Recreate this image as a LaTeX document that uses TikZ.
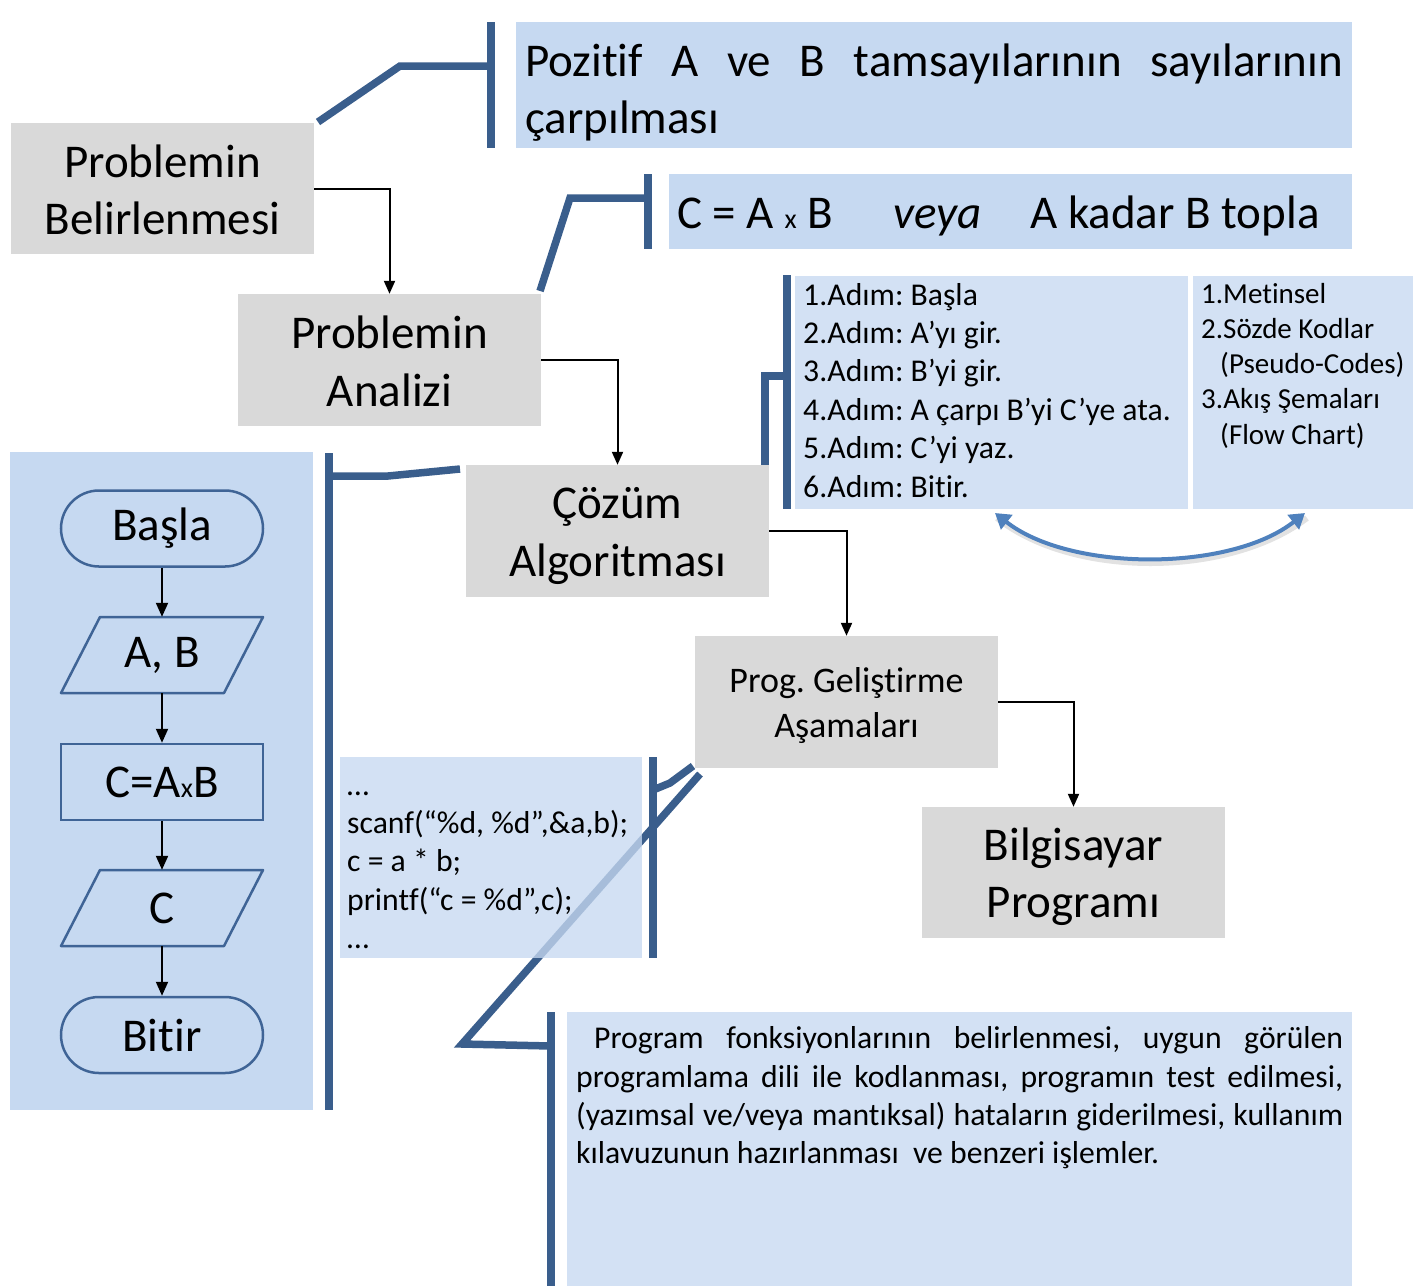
\documentclass[tikz,border=0pt]{standalone}
\usepackage{fontspec}
\setmainfont[Ligatures={NoCommon,NoDiscretionary,NoContextual}]{Carlito}
\usetikzlibrary{arrows.meta,calc}
\definecolor{grayfill}{HTML}{D9D9D9}
\definecolor{bluefill}{HTML}{C6D9F1}
\definecolor{brk}{HTML}{3A5E8C}
\definecolor{flowline}{HTML}{3F6496}
\definecolor{curvc}{HTML}{4F81BD}
\newcommand{\fbig}{\fontsize{47}{57.5}\selectfont}
\newcommand{\fmid}{\fontsize{36}{45}\selectfont}
\newcommand{\fsmall}{\fontsize{31.7}{38.4}\selectfont}
\newcommand{\ftiny}{\fontsize{29}{35}\selectfont}
\frenchspacing
\begin{document}
\begin{tikzpicture}[x=1pt,y=-1pt,
  gbox/.style={fill=grayfill, inner sep=0pt, minimum width=303pt},
  gtxt/.style={inner sep=0pt, align=center, font=\fbig},
  bbox/.style={fill=bluefill, inner sep=0pt},
  lbox/.style={fill=bluefill, fill opacity=.78, inner sep=0pt},
  bracket/.style={draw=brk, line width=7.5pt},
  arr/.style={draw=black, line width=2pt, -{Triangle[length=13pt,width=11pt]}},
  farr/.style={draw=black, line width=2pt, -{Triangle[length=14pt,width=12pt]}},
  txt/.style={inner sep=0pt, anchor=base west},
  fshape/.style={draw=flowline, line width=2.5pt, line join=round},
  ftxt/.style={inner sep=0pt, minimum width=202pt, minimum height=76pt, font=\fbig}]
\useasboundingbox (0,0) rectangle (1413,1286);

% ---------- thick bracket connectors ----------
\coordinate (k1a) at (318,122); \coordinate (k1b) at (400,66); \coordinate (k1c) at (491,66);
\draw[bracket] (k1a) -- (k1b) -- (k1c);
\coordinate (v1t) at (491,22); \coordinate (v1b) at (491,148);
\draw[bracket] (v1t) -- (v1b);

\coordinate (k2a) at (540,291); \coordinate (k2b) at (570,198); \coordinate (k2c) at (648,198);
\draw[bracket] (k2a) -- (k2b) -- (k2c);
\coordinate (v2t) at (648,174); \coordinate (v2b) at (648,249);
\draw[bracket] (v2t) -- (v2b);

\coordinate (k3a) at (765,466); \coordinate (k3b) at (765,376); \coordinate (k3c) at (787,376);
\draw[bracket] (k3a) -- (k3b) -- (k3c);
\coordinate (v3t) at (787,275); \coordinate (v3b) at (787,509);
\draw[bracket] (v3t) -- (v3b);

\coordinate (k4a) at (460,469); \coordinate (k4b) at (388,476); \coordinate (k4c) at (329,476);
\draw[bracket] (k4a) -- (k4b) -- (k4c);
\coordinate (v4t) at (329,453); \coordinate (v4b) at (329,1110);
\draw[bracket] (v4t) -- (v4b);

\coordinate (k5a) at (693,766); \coordinate (k5b) at (670,783); \coordinate (k5c) at (653,790);
\draw[bracket] (k5a) -- (k5b) -- (k5c);
\coordinate (v5t) at (653,757); \coordinate (v5b) at (653,958);
\draw[bracket] (v5t) -- (v5b);

\coordinate (k6a) at (700,774); \coordinate (k6b) at (462,1044); \coordinate (k6c) at (551,1046);
\draw[bracket] (k6a) -- (k6b) -- (k6c);
\coordinate (v6t) at (551,1012); \coordinate (v6b) at (551,1286);
\draw[bracket] (v6t) -- (v6b);

% ---------- gray process boxes ----------
\node[gbox, minimum height=131pt] (b1) at (162.5,188.5) {};
\node[gtxt] (b1t) at (162.5,190) {Problemin\\Belirlenmesi};
\node[gbox, minimum height=132pt] (b2) at (389.5,360) {};
\node[gtxt] (b2t) at (389.5,361.5) {Problemin\\Analizi};
\node[gbox, minimum height=132pt] (b3) at (617.5,531) {};
\node[gtxt] (b3t) at (617.5,536) {Çözüm\\Algoritması};
\node[gbox, minimum height=132pt] (b4) at (846.5,702) {};
\node[gtxt, font=\fmid] (b4t) at (846.5,705.5) {Prog. Geliştirme\\Aşamaları};
\node[gbox, minimum height=131pt] (b5) at (1073.5,872.5) {};
\node[gtxt] (b5t) at (1073.5,876.5) {Bilgisayar\\Programı};

\draw[arr] (b1.east) -| (b2.north);
\draw[arr] (b2.east) -| (b3.north);
\draw[arr] (b3.east) -| (b4.north);
\draw[arr] (b4.east) -| (b5.north);

% ---------- blue info boxes ----------
\node[bbox, minimum width=836pt, minimum height=126pt] (t1) at (934,85) {};
\node[txt, font=\fbig] (t1a) at (525,76) {\makebox[818pt][s]{Pozitif A ve B tamsayılarının sayılarının}};
\node[txt, font=\fbig] (t1b) at (525,133) {çarpılması};

\node[bbox, minimum width=683pt, minimum height=75pt] (t2) at (1010.5,211.5) {};
\node[txt, font=\fbig] (t2a) at (677,228) {C = A {\fontsize{28}{28}\selectfont x} B};
\node[txt, font=\fbig\itshape] (t2b) at (893,228) {veya};
\node[txt, font=\fbig] (t2c) at (1030,228) {A kadar B topla};

\node[lbox, minimum width=393pt, minimum height=233pt] (lst) at (991.5,392.5) {};
\node[lbox, minimum width=220pt, minimum height=233pt] (rgt) at (1303,392.5) {};
\foreach \t [count=\i] in {1.Adım: Başla, 2.Adım: A’yı gir., 3.Adım: B’yi gir., 4.Adım: A çarpı B’yi C’ye ata., 5.Adım: C’yi yaz., 6.Adım: Bitir.}
  \node[txt, font=\fsmall] (step\i) at (803,{305+38.4*(\i-1)}) {\t};
\node[txt, font=\ftiny] (r1) at (1201,303) {1.Metinsel};
\node[txt, font=\ftiny] (r2) at (1201,338) {2.Sözde Kodlar};
\node[txt, font=\ftiny] (r3) at (1220,373) {(Pseudo-Codes)};
\node[txt, font=\ftiny] (r4) at (1201,408) {3.Akış Şemaları};
\node[txt, font=\ftiny] (r5) at (1220,444) {(Flow Chart)};

% curved double arrow
\coordinate (ca1) at (995,513); \coordinate (ca2) at (1305,513);
\draw[line width=6pt, black!25, opacity=.45] ([shift={(2,5)}]ca1) .. controls (1072,578) and (1228,578) .. ([shift={(2,5)}]ca2);
\draw[draw=curvc, line width=4pt, {Triangle[length=15pt,width=18pt]}-{Triangle[length=15pt,width=18pt]}] (ca1) .. controls (1070,572) and (1230,572) .. (ca2);

% code box
\node[lbox, minimum width=302pt, minimum height=201pt] (code) at (491,857.5) {};
\node[txt, font=\fsmall] (c1) at (347,795) {…};
\node[txt, font=\fsmall] (c2) at (347,833) {scanf(“\%d, \%d”,\&a,b);};
\node[txt, font=\fsmall] (c3) at (347,871) {c = a * b;};
\node[txt, font=\fsmall] (c4) at (347,910) {printf(“c = \%d”,c);};
\node[txt, font=\fsmall] (c5) at (347,948) {…};

% bottom box
\node[lbox, minimum width=785pt, minimum height=274pt] (bot) at (959.5,1149) {};
\node[txt, font=\fsmall] (p1) at (594,1048) {\makebox[749pt][s]{Program fonksiyonlarının belirlenmesi, uygun görülen}};
\node[txt, font=\fsmall] (p2) at (576,1087) {\makebox[767pt][s]{programlama dili ile kodlanması, programın test edilmesi,}};
\node[txt, font=\fsmall] (p3) at (576,1125) {\makebox[767pt][s]{(yazımsal ve/veya mantıksal) hataların giderilmesi, kullanım}};
\node[txt, font=\fsmall] (p4) at (576,1163) {kılavuzunun hazırlanması\ \ ve benzeri işlemler.};

% ---------- flowchart panel ----------
\node[bbox, minimum width=303pt, minimum height=658pt] (panel) at (161.5,781) {};
\node[ftxt, draw=flowline, line width=2.5pt, rounded corners=38pt] (basla) at (162,528.5) {Başla};
\node[ftxt] (ab) at (162,655) {A, B};
\draw[fshape] (61,693) -- (100,617) -- (263,617) -- (224,693) -- cycle;
\node[ftxt, draw=flowline, line width=2.5pt] (cab) at (162,782) {C=A{\fontsize{28}{28}\selectfont x}B};
\node[ftxt] (cc) at (162,908) {C};
\draw[fshape] (61,946) -- (100,870) -- (263,870) -- (224,946) -- cycle;
\node[ftxt, draw=flowline, line width=2.5pt, rounded corners=38pt] (bitir) at (162,1035) {Bitir};

\draw[farr] (basla.south) -- (ab.north);
\draw[farr] (ab.south) -- (cab.north);
\draw[farr] (cab.south) -- (cc.north);
\draw[farr] (cc.south) -- (bitir.north);
\end{tikzpicture}
\end{document}
